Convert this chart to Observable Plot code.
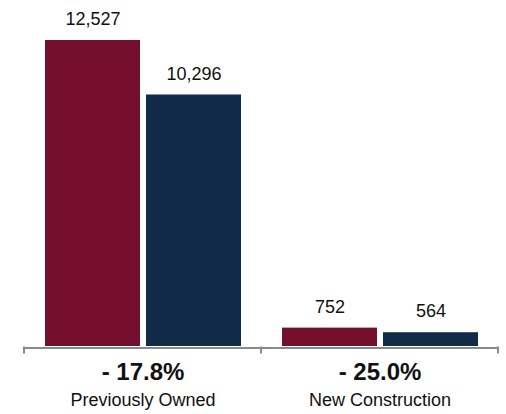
<!DOCTYPE html>
<html><head><meta charset="utf-8">
<script src="https://cdn.jsdelivr.net/npm/d3@7"></script>
<script src="https://cdn.jsdelivr.net/npm/@observablehq/plot@0.6"></script>
<style>body{margin:0;background:#fff}</style>
</head><body><div id="chart"></div>
<script>
const groups = ["Previously Owned", "New Construction"];
const periods = ["Prior", "Current"];
const prior = [12527, 752];
const current = [10296, 564];
const changes = ["- 17.8%", "- 25.0%"];
const colors = ["#74102d", "#112a47"];

const rows = groups.flatMap((g, i) => [
  {group: g, period: periods[0], value: prior[i]},
  {group: g, period: periods[1], value: current[i]}
]);
const labels = groups.map((g, i) => ({group: g, change: changes[i]}));

const chart = Plot.plot({
  width: 506, height: 414, marginTop: 40, marginBottom: 68, marginLeft: 23, marginRight: 8,
  style: {fontFamily: "'Liberation Sans', Arial, Helvetica, sans-serif", background: "#fff"},
  fx: {domain: groups, padding: 0, axis: null},
  x: {domain: periods, paddingInner: 0.06, paddingOuter: 0.193, axis: null},
  y: {domain: [0, 12527], axis: null},
  color: {domain: periods, range: colors},
  marks: [
    Plot.barY(rows, {fx: "group", x: "period", y: "value", fill: "period"}),
    Plot.text(rows, {fx: "group", x: "period", y: "value", text: d => d3.format(",")(d.value), dy: -21, fontSize: 18, fill: "#111"}),
    Plot.ruleY([0], {stroke: "#8a8a8a", strokeWidth: 2, dy: 1.5}),
    Plot.text(labels, {fx: "group", y: () => 0, text: "change", dy: 26, fontSize: 24, fontWeight: "bold", fill: "#111"}),
    Plot.text(labels, {fx: "group", y: () => 0, text: "group", dy: 54, fontSize: 18, fill: "#111"})
  ]
});

// boundary ticks at the group edges, from the fx scale
const fx = chart.scale("fx");
const yb = chart.scale("y").apply(0) + 1.5;
const edges = groups.map(g => fx.apply(g)).concat([fx.apply(groups[groups.length - 1]) + fx.bandwidth]);
d3.select(chart).append("g")
  .selectAll("line").data(edges).join("line")
  .attr("x1", d => d).attr("x2", d => d)
  .attr("y1", yb - 1).attr("y2", yb + 6)
  .attr("stroke", "#8a8a8a").attr("stroke-width", 2);

document.getElementById("chart").append(chart);
</script>
</body></html>
